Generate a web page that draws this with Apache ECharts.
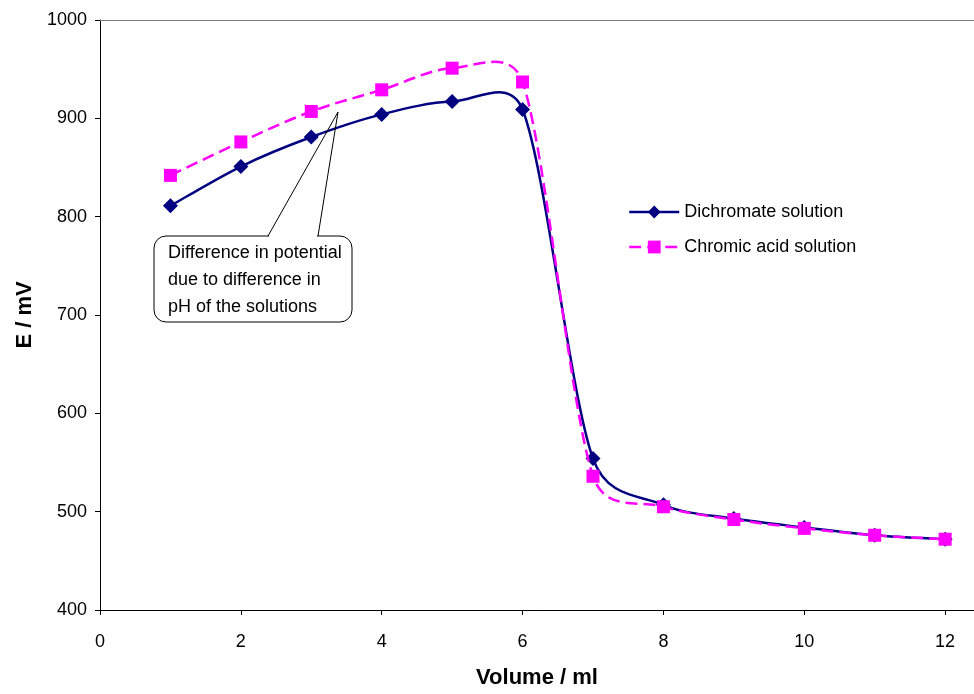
<!DOCTYPE html>
<html>
<head>
<meta charset="utf-8">
<script src="https://cdn.jsdelivr.net/npm/echarts@6/dist/echarts.min.js"></script>
<style>
  html, body { margin: 0; padding: 0; background: #fff; }
  #chart { width: 974px; height: 694px; }
</style>
</head>
<body>
<div id="chart"></div>
<script>
// Titration volumes (ml) and measured potentials (mV)
const volumes = [1, 2, 3, 4, 5, 6, 7, 8, 9, 10, 11, 12];
const dichromate = [811, 851, 881, 904, 917, 909, 554, 507, 493, 484, 476, 472];
const chromicAcid = [842, 876, 907, 929, 951, 937, 536, 505, 492, 483, 476, 472];

const FONT = '"Liberation Sans", Arial, sans-serif';
const NAVY = '#000080';
const MAGENTA = '#FF00FF';
const X_MAX = 12.41;

// Spreadsheet-style smoothed line: Catmull-Rom tangents whose control arms
// are capped at half of the segment length (computed in pixel space).
function smoothPath(pts) {
  const dist = (a, b) => Math.hypot(b[0] - a[0], b[1] - a[1]);
  let d = 'M' + pts[0][0] + ',' + pts[0][1];
  for (let i = 0; i < pts.length - 1; i++) {
    const p0 = pts[i - 1] || pts[i];
    const p1 = pts[i];
    const p2 = pts[i + 1];
    const p3 = pts[i + 2] || pts[i + 1];
    const seg = dist(p1, p2);
    const d02 = dist(p0, p2);
    const d13 = dist(p1, p3);
    let f0 = 1 / 6, f1 = 1 / 6;
    if (d02 / 6 > seg / 2) f0 = seg / (2 * d02);
    if (d13 / 6 > seg / 2) f1 = seg / (2 * d13);
    const c1 = [p1[0] + (p2[0] - p0[0]) * f0, p1[1] + (p2[1] - p0[1]) * f0];
    const c2 = [p2[0] - (p3[0] - p1[0]) * f1, p2[1] - (p3[1] - p1[1]) * f1];
    d += ' C' + c1[0] + ',' + c1[1] + ' ' + c2[0] + ',' + c2[1] + ' ' + p2[0] + ',' + p2[1];
  }
  return d;
}

function curveSeries(name, values, color, dash, z) {
  const data = volumes.map((v, i) => [v, values[i]]);
  const style = { fill: 'none', stroke: color, lineWidth: 2.5, lineJoin: 'round' };
  if (dash) style.lineDash = dash;
  return {
    type: 'custom',
    name: name,
    data: data,
    silent: true,
    z: z,
    renderItem: function (params, api) {
      if (params.dataIndex !== 0) return null;
      const pts = data.map(p => api.coord(p));
      return {
        type: 'path',
        shape: { pathData: smoothPath(pts) },
        style: style
      };
    }
  };
}

function markerSeries(name, values, color, symbol, size, z) {
  return {
    type: 'line',
    name: name,
    data: volumes.map((v, i) => [v, values[i]]),
    symbol: symbol,
    symbolSize: size,
    showSymbol: true,
    silent: true,
    z: z,
    itemStyle: { color: color, borderWidth: 0 },
    lineStyle: { width: 0, opacity: 0, color: color }
  };
}

const chart = echarts.init(document.getElementById('chart'));

// Callout box with a pointer towards the gap between the two curves
const box = { x: 154, y: 236, w: 198, h: 86 };
const apex = [338, 112];
const legs = [268, 318];

chart.setOption({
  animation: false,
  backgroundColor: '#fff',
  grid: {
    left: 100,
    right: 0,
    top: 20,
    bottom: 82
  },
  xAxis: [
    {
      type: 'value',
      min: 0,
      max: X_MAX,
      interval: 2,
      name: 'Volume / ml',
      nameLocation: 'middle',
      nameGap: 57,
      nameTextStyle: { fontFamily: FONT, fontSize: 22, fontWeight: 'bold', color: '#000' },
      axisLine: { show: true, lineStyle: { color: '#000', width: 1 } },
      axisTick: { show: true, length: 5, lineStyle: { color: '#000' } },
      axisLabel: { fontFamily: FONT, fontSize: 18, color: '#000', margin: 23, showMaxLabel: false },
      splitLine: { show: false }
    },
    {
      // plot-area top border
      type: 'value',
      position: 'top',
      min: 0,
      max: X_MAX,
      interval: 2,
      axisLine: { show: true, lineStyle: { color: '#808080', width: 1 } },
      axisTick: { show: false },
      axisLabel: { show: false },
      splitLine: { show: false }
    }
  ],
  yAxis: {
    type: 'value',
    min: 400,
    max: 1000,
    interval: 100,
    name: 'E / mV',
    nameLocation: 'middle',
    nameGap: 62,
    nameTextStyle: { fontFamily: FONT, fontSize: 22, fontWeight: 'bold', color: '#000' },
    axisLine: { show: true, lineStyle: { color: '#000', width: 1 } },
    axisTick: { show: true, length: 5, lineStyle: { color: '#000' } },
    axisLabel: { fontFamily: FONT, fontSize: 18, color: '#000', margin: 13, formatter: v => String(v) },
    splitLine: { show: false }
  },
  legend: {
    orient: 'vertical',
    left: 623,
    top: 198,
    itemWidth: 50,
    itemHeight: 16,
    itemGap: 17,
    selectedMode: false,
    textStyle: { fontFamily: FONT, fontSize: 18, color: '#000' },
    data: [
      { name: 'Dichromate solution', lineStyle: { opacity: 1, width: 2.5, color: NAVY } },
      { name: 'Chromic acid solution', lineStyle: { opacity: 1, width: 2.5, color: MAGENTA, type: [12, 6] } }
    ]
  },
  series: [
    curveSeries('Dichromate curve', dichromate, NAVY, null, 2),
    markerSeries('Dichromate solution', dichromate, NAVY, 'diamond', 15, 3),
    curveSeries('Chromic acid curve', chromicAcid, MAGENTA, [12, 6], 4),
    markerSeries('Chromic acid solution', chromicAcid, MAGENTA, 'rect', 13, 5)
  ],
  graphic: [
    {
      type: 'rect',
      z: 10,
      shape: { x: box.x, y: box.y, width: box.w, height: box.h, r: 12 },
      style: { fill: 'none', stroke: '#000', lineWidth: 1 }
    },
    {
      // opening in the top edge where the pointer leaves the box
      type: 'line',
      z: 11,
      shape: { x1: legs[0] + 1, y1: box.y, x2: legs[1] - 1, y2: box.y },
      style: { stroke: '#fff', lineWidth: 3 }
    },
    {
      type: 'polyline',
      z: 12,
      shape: { points: [[legs[0], box.y], apex, [legs[1], box.y]] },
      style: { fill: 'none', stroke: '#000', lineWidth: 1 }
    },
    {
      type: 'text',
      z: 12,
      x: 168,
      y: 240,
      style: {
        text: 'Difference in potential\ndue to difference in\npH of the solutions',
        fontFamily: FONT,
        fontSize: 18,
        lineHeight: 27,
        fill: '#000',
        verticalAlign: 'top',
        align: 'left'
      }
    }
  ]
});
</script>
</body>
</html>
